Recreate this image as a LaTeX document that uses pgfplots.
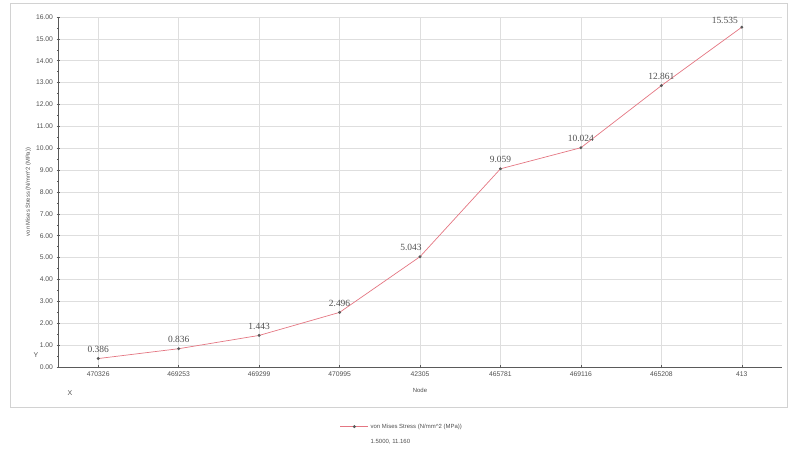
\documentclass[border=0pt]{standalone}
\usepackage{fontspec}
\setmainfont{Liberation Sans}
\newfontfamily\valuefont{Liberation Serif}
\usepackage{pgfplots}
\pgfplotsset{compat=1.18}

\definecolor{seriesred}{RGB}{228,118,130}
\definecolor{gridgray}{RGB}{222,222,222}
\definecolor{axisgray}{RGB}{90,90,90}
\definecolor{labelgray}{RGB}{80,80,80}

\begin{document}
\begin{tikzpicture}[x=1bp,y=1bp]
  % page extent and outer chart frame
  \path (0,0) rectangle (793,455);
  \draw[gray!35, line width=0.8bp] (10,48) rectangle (787,452);

  \begin{axis}[
    at={(58bp,88bp)}, anchor=south west,
    scale only axis, width=724bp, height=350bp,
    xmin=-0.5, xmax=8.5, ymin=0, ymax=16,
    xtick={0,...,8},
    xticklabels={470326,469253,469299,470995,42305,465781,469116,465208,413},
    ytick={0,...,16},
    minor y tick num=1,
    yticklabel={\pgfmathprintnumber[fixed,fixed zerofill,precision=2]{\tick}},
    /pgf/number format/assume math mode=true,
    axis lines*=left,
    axis line style={-, draw=axisgray, line width=0.6bp},
    tick style={draw=axisgray, line width=0.5bp},
    major tick length=3bp, minor tick length=1.8bp,
    tick align=center,
    grid=major,
    major grid style={draw=gridgray, line width=0.5bp},
    ticklabel style={font=\fontsize{6.8}{8}\selectfont, text=labelgray},
    xlabel={Node},
    xlabel style={at={(axis description cs:0.5,-0.05)}, anchor=north,
      font=\fontsize{6}{7}\selectfont, text=labelgray},
    ylabel={von Mises Stress (N/mm\textasciicircum 2 (MPa))},
    ylabel style={at={(axis description cs:-0.041,0.5)}, anchor=center,
      font=\fontsize{5.8}{6.8}\selectfont, text=labelgray},
    nodes near coords,
    point meta=explicit symbolic,
    every node near coord/.append style={font=\valuefont\fontsize{9.5}{10.5}\selectfont,
      text=labelgray, anchor=south, yshift=2.5bp},
    coordinate style/.condition={x==4}{xshift=-9bp},
    coordinate style/.condition={x==8}{xshift=-17bp, yshift=-3bp},
    legend style={at={(axis description cs:0.475,-0.15)}, anchor=north,
      draw=none, fill=none, font=\fontsize{6}{7}\selectfont,
      text=labelgray, row sep=6bp},
    legend cell align=left,
    legend image code/.code={
      \draw[#1, mark repeat=2, mark phase=2] plot coordinates {(0bp,0bp) (14bp,0bp) (28bp,0bp)};},
  ]
    \addplot[seriesred, line width=0.7bp, mark=*, mark size=1.1bp,
      mark options={draw=axisgray, fill=axisgray}]
      coordinates {
        (0,0.386)[0.386]
        (1,0.836)[0.836]
        (2,1.443)[1.443]
        (3,2.496)[2.496]
        (4,5.043)[5.043]
        (5,9.059)[9.059]
        (6,10.024)[10.024]
        (7,12.861)[12.861]
        (8,15.535)[15.535]
      };
    \addlegendentry{von Mises Stress (N/mm\textasciicircum 2 (MPa))}
    \addlegendimage{empty legend}
    \addlegendentry{1.5000, 11.160}
  \end{axis}

  % axis direction markers
  \node[font=\fontsize{7}{8}\selectfont, text=labelgray] at (36,100) {Y};
  \node[font=\fontsize{7}{8}\selectfont, text=labelgray] at (70,62) {X};
\end{tikzpicture}
\end{document}
